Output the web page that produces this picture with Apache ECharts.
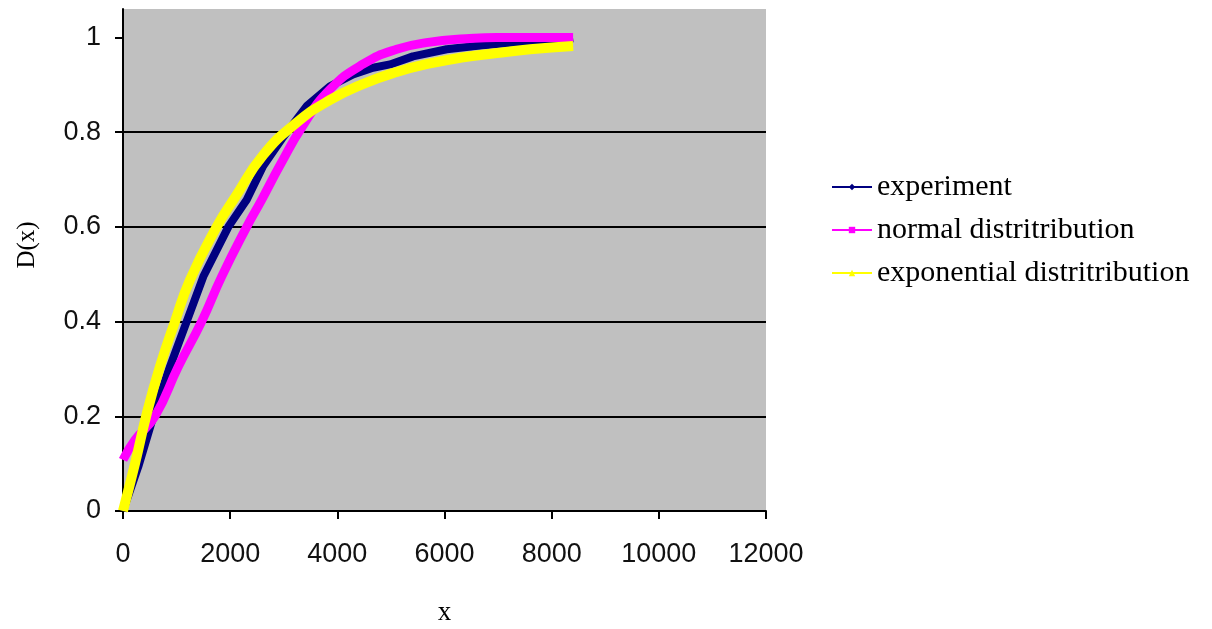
<!DOCTYPE html>
<html>
<head>
<meta charset="utf-8">
<script src="https://cdn.jsdelivr.net/npm/echarts@6/dist/echarts.min.js"></script>
<style>
html,body{margin:0;padding:0;background:#fff;}
#c{width:1212px;height:629px;}
</style>
</head>
<body>
<div id="c"></div>
<script>
// Data
const seriesNames = ['experiment', 'normal distritribution', 'exponential distritribution'];

const experimentX = [0, 286, 566, 877, 1188, 1499, 1966, 2309, 2613, 2986, 3428, 3863, 4293, 4666, 4983, 5412, 6041, 6663, 7285, 7907, 8400];
const experimentY = [0, 0.094, 0.2, 0.305, 0.4, 0.495, 0.6, 0.657, 0.728, 0.789, 0.855, 0.897, 0.922, 0.936, 0.943, 0.960, 0.975, 0.983, 0.989, 0.992, 0.998];

const normalX = [0, 224, 597, 1033, 1468, 1841, 2309, 2588, 2930, 3365, 3863, 4485, 5108, 5730, 6400, 6974, 8400];
const normalY = [0.108, 0.15, 0.2, 0.305, 0.4, 0.495, 0.6, 0.657, 0.73, 0.815, 0.89, 0.944, 0.975, 0.99, 0.997, 1.0, 1.0];

const exponentialX = [0, 224, 442, 690, 970, 1250, 1748, 2090, 2619, 3241, 3863, 4485, 5108, 5730, 6352, 6974, 7596, 8400];
const exponentialY = [0, 0.1, 0.205, 0.305, 0.4, 0.488, 0.6, 0.662, 0.752, 0.82, 0.868, 0.902, 0.927, 0.945, 0.958, 0.967, 0.975, 0.982];

const xTicks = [0, 2000, 4000, 6000, 8000, 10000, 12000];
const yTicks = [0, 0.2, 0.4, 0.6, 0.8, 1];

function pairs(xs, ys) { return xs.map((x, i) => [x, ys[i]]); }

const chart = echarts.init(document.getElementById('c'), null, {renderer: 'canvas'});
chart.setOption({
  animation: false,
  backgroundColor: '#ffffff',
  grid: {
    left: 123, right: 446, top: 9, bottom: 118,
    outerBoundsMode: 'none', containLabel: false,
    show: true, backgroundColor: '#c0c0c0', borderWidth: 0
  },
  legend: {
    orient: 'vertical',
    left: 826, top: 167,
    itemWidth: 40, itemHeight: 8, itemGap: 13,
    data: seriesNames,
    lineStyle: {width: 2},
    textStyle: {fontFamily: 'Liberation Serif', fontSize: 30, color: '#000', lineHeight: 30}
  },
  xAxis: {
    type: 'value', min: 0, max: 12000, interval: 2000,
    name: 'x', nameLocation: 'middle', nameGap: 88, nameMoveOverlap: false,
    nameTextStyle: {fontFamily: 'Liberation Serif', fontSize: 27, color: '#000'},
    axisLine: {show: true, lineStyle: {color: '#000', width: 2}},
    axisTick: {show: true, length: 8, lineStyle: {color: '#000', width: 2}},
    axisLabel: {margin: 30, fontFamily: 'Liberation Sans', fontSize: 27, color: '#111',
      customValues: xTicks, formatter: v => String(v)},
    splitLine: {show: false}
  },
  yAxis: {
    type: 'value', min: 0, max: 1.06, interval: 0.2,
    name: 'D(x)', nameLocation: 'middle', nameGap: 83, nameMoveOverlap: false,
    nameTextStyle: {fontFamily: 'Liberation Serif', fontSize: 25, color: '#000', padding: [0, 0, 0, 30]},
    axisLine: {show: true, lineStyle: {color: '#000', width: 2}},
    axisTick: {show: true, length: 8, lineStyle: {color: '#000', width: 2}, customValues: yTicks},
    axisLabel: {margin: 22, fontFamily: 'Liberation Sans', fontSize: 27, color: '#111',
      customValues: yTicks},
    splitLine: {show: true, showMinLine: false, showMaxLine: false, lineStyle: {color: '#000', width: 2}}
  },
  series: [
    {
      name: seriesNames[0], type: 'line', data: pairs(experimentX, experimentY),
      symbol: 'diamond', symbolSize: 8, showSymbol: false,
      lineStyle: {color: '#000080', width: 8}, itemStyle: {color: '#000080'}, z: 2
    },
    {
      name: seriesNames[1], type: 'line', data: pairs(normalX, normalY), smooth: 0.5,
      symbol: 'rect', symbolSize: 7, showSymbol: false,
      lineStyle: {color: '#ff00ff', width: 9}, itemStyle: {color: '#ff00ff'}, z: 3
    },
    {
      name: seriesNames[2], type: 'line', data: pairs(exponentialX, exponentialY), smooth: 0.5,
      symbol: 'triangle', symbolSize: 8, showSymbol: false,
      lineStyle: {color: '#ffff00', width: 10}, itemStyle: {color: '#ffff00'}, z: 4
    }
  ]
});
</script>
</body>
</html>
